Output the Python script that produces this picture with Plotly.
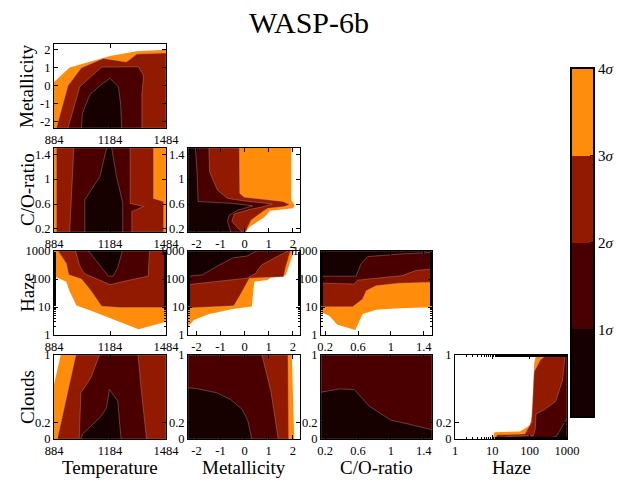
import plotly.graph_objects as go

# the page body keeps an 8px margin on every side; the figure fills the space inside it
PAGE_OFF = 8
W, H = 622 - 2 * PAGE_OFF, 487 - 2 * PAGE_OFF

# ---------------- data ----------------
BAND_COLORS = {4: "#ff8c0a", 3: "#921a00", 2: "#4b0000", 1: "#170000"}
SIGMA_LEVELS = [1, 2, 3, 4]
SIGMA_LABELS = ["1<i>σ</i>", "2<i>σ</i>", "3<i>σ</i>", "4<i>σ</i>"]

TEMP_RANGE = [884, 1484]
TEMP_TICKS = [884, 1184, 1484]
MET_RANGE = [-2.35, 2.3]
MET_TICKS = [-2, -1, 0, 1, 2]
MET_TICKTEXT = ["-2", "-1", "0", "1", "2"]
CO_RANGE = [0.15, 1.5]
CO_TICKS = [0.2, 0.6, 1, 1.4]
CO_TICKTEXT = ["0.2", "0.6", "1", "1.4"]
HAZE_LOG_RANGE = [0, 3]
HAZE_TICKS = [1, 10, 100, 1000]
CLOUD_RANGE = [0, 1]
CLOUD_TICKS = [0, 0.2, 1]
CLOUD_TICKTEXT = ["0", "0.2", "1"]

# confidence regions (region with sigma <= level), x = column parameter, y = row parameter
MET_VS_TEMP = {
    4: ([884, 884, 968, 1184, 1328, 1484, 1484], [-2.35, 0.2, 1.0, 1.63, 1.9, 1.98, -2.35]),
    3: ([897, 959, 1031, 1148, 1272, 1328, 1484, 1484], [-2.35, 0.0, 0.98, 1.5, 1.3, 1.74, 1.8, -2.35]),
    2: ([959, 1022, 1139, 1337, 1364, 1355, 1355], [-2.35, -0.07, 1.02, 1.04, 0.54, -0.5, -2.35]),
    1: ([1031, 1036, 1076, 1130, 1184, 1229, 1241, 1247], [-2.35, -1.56, -0.5, 0.0, 0.4, -0.07, -1.03, -2.35]),
}
CO_VS_TEMP = {
    4: ([884, 884, 1484, 1484], [0.15, 1.5, 1.5, 0.15]),
    3: ([897, 897, 1417, 1417, 1471, 1471], [0.15, 1.5, 1.5, 0.69, 0.64, 0.15]),
    2: ([968, 990, 1292, 1292, 1364, 1301, 1301], [0.15, 1.5, 1.5, 0.61, 0.56, 0.48, 0.15]),
    1: ([1049, 1049, 1130, 1166, 1193, 1219, 1252, 1252], [0.15, 0.67, 1.04, 1.5, 1.5, 1.04, 0.62, 0.15]),
}
CO_VS_MET = {
    4: ([-2.35, -2.35, 1.94, 1.94, 2.08, 2.01, 1.06, 0.83, 0.20, 0.06],
        [0.15, 1.5, 1.5, 0.66, 0.58, 0.53, 0.49, 0.39, 0.23, 0.15]),
    3: ([-2.35, -2.35, -0.22, -0.20, -0.01, 1.59, 1.87, 1.66, 0.97, 0.76, 0.27, 0.03],
        [0.15, 1.5, 1.5, 0.77, 0.71, 0.64, 0.59, 0.56, 0.53, 0.48, 0.34, 0.15]),
    2: ([-2.35, -2.35, -1.48, -1.455, -1.13, -0.71, -0.01, 1.15, 0.76, 0.20, -0.43, -0.53, -0.11],
        [0.15, 1.5, 1.5, 1.12, 0.825, 0.69, 0.65, 0.60, 0.557, 0.51, 0.44, 0.32, 0.15]),
    1: ([-2.35, -2.35, -2.04, -1.97, -1.93, -0.50, 0.34, -0.29, -0.64, -0.71, -0.57],
        [0.15, 1.5, 1.5, 1.09, 0.64, 0.61, 0.57, 0.50, 0.42, 0.32, 0.15]),
}
HAZE_VS_TEMP = {
    4: ([884, 950, 965, 1004, 1090, 1184, 1337, 1484, 1484, 884],
        [126, 79, 40, 11.2, 7.1, 4.0, 1.6, 3.0, 1000, 1000]),
    3: ([906, 950, 963, 1031, 1080, 1112, 1139, 1240, 1484, 1484],
        [1000, 355, 141, 100, 40, 20, 10.7, 9.5, 9.5, 1000]),
    2: ([1000, 1020, 1045, 1184, 1300, 1388, 1396], [1000, 316, 158, 63, 95, 126, 1000]),
    1: ([1070, 1110, 1160, 1175, 1200, 1225, 1250], [1000, 447, 158, 126, 126, 251, 1000]),
}
HAZE_VS_MET = {
    4: ([-2.35, -2.1, -1.5, -0.5, 0.3, 0.33, 0.4, 0.95, 1.1, 1.7, 2.05, -2.35],
        [2.0, 3.4, 5.5, 8.5, 10.5, 25, 79, 93, 112, 132, 1000, 1000]),
    3: ([-2.35, -0.45, -0.2, 0.2, 1.62, 1.7, 1.9, -2.35], [9.3, 11, 25, 107, 120, 251, 1000, 1000]),
    2: ([-2.35, 0.1, 0.45, 0.7, 1.35, 1.8, -2.35], [63, 107, 158, 316, 631, 1000, 1000]),
    1: ([-2.35, -1.75, -1.05, -0.5, 0.1, 0.5, -2.35], [126, 141, 316, 562, 661, 1000, 1000]),
}
HAZE_VS_CO = {
    4: ([0.15, 0.25, 0.35, 0.567, 0.657, 0.82, 1.10, 1.5, 1.5, 0.15],
        [6.5, 4.9, 2.3, 1.5, 5.6, 7.9, 9.1, 9.8, 1000, 1000]),
    3: ([0.15, 0.535, 0.657, 0.70, 0.82, 1.10, 1.5, 1.5, 0.15],
        [10.2, 10.2, 19.5, 38, 57.5, 71, 76, 1000, 1000]),
    2: ([0.15, 0.555, 0.596, 0.9, 1.14, 1.30, 1.5, 1.5, 0.15],
        [71, 66, 91, 115, 132, 200, 229, 1000, 1000]),
    1: ([0.15, 0.576, 0.636, 0.718, 1.10, 1.5, 1.5, 0.15],
        [126, 126, 347, 631, 776, 891, 1000, 1000]),
}
CLOUDS_VS_TEMP = {
    4: ([884, 884, 920, 1484, 1484], [0, 0.65, 1, 1, 0]),
    3: ([902, 1001, 1484, 1484], [0, 1, 1, 0]),
    2: ([1019, 1028, 1082, 1127, 1334, 1352, 1380], [0, 0.55, 0.73, 1, 1, 0.57, 0]),
    1: ([1028, 1037, 1136, 1165, 1181, 1226, 1235, 1244], [0, 0.06, 0.27, 0.37, 0.59, 0.45, 0.2, 0]),
}
CLOUDS_VS_MET = {
    4: ([-2.35, -2.35, 1.96, 2.06], [0, 1, 1, 0]),
    3: ([-2.35, -2.35, 1.80, 1.83], [0, 1, 1, 0]),
    2: ([-2.35, -2.35, 0.72, 1.09, 1.40], [0, 1, 1, 0.57, 0]),
    1: ([-2.35, -2.35, -2.0, -1.15, -0.58, -0.09, 0.13, 0.30], [0, 0.61, 0.60, 0.55, 0.47, 0.35, 0.22, 0]),
}
CLOUDS_VS_CO = {
    2: ([0.15, 0.15, 1.5, 1.5], [0, 1, 1, 0]),
    1: ([0.15, 0.15, 0.373, 0.555, 0.738, 1.0, 1.224, 1.5, 1.5],
        [0, 0.557, 0.596, 0.588, 0.39, 0.224, 0.176, 0.11, 0]),
}
CLOUDS_VS_HAZE = {
    4: ([10, 11.5, 55, 100, 120, 132, 148, 1000, 1000], [0, 0.08, 0.09, 0.16, 0.3, 0.9, 1, 1, 0]),
    3: ([11.5, 13.5, 74, 112, 132, 191, 288, 1000, 1000], [0, 0.05, 0.06, 0.2, 0.8, 0.94, 1, 1, 0]),
    2: ([20, 25, 126, 141, 148, 251, 501, 759, 891, 1000, 1000],
        [0, 0.03, 0.04, 0.12, 0.3, 0.35, 0.45, 0.7, 1, 1, 0]),
    1: ([355, 537, 813, 1000, 1000], [0, 0.04, 0.18, 0.24, 0]),
}

COL_NAMES = ["Temperature", "Metallicity", "C/O-ratio", "Haze"]
ROW_NAMES = ["Metallicity", "C/O-ratio", "Haze", "Clouds"]

# ---------------- layout geometry (window pixels) ----------------
COL_PX = [(54, 166), (188, 300), (321, 432), (455, 567)]
ROW_PX = [(44, 128), (148, 232), (251, 335), (355, 439)]
CBAR_X = (572, 593)
CBAR_Y = (69, 416)

SERIF = '"Liberation Serif", "DejaVu Serif", serif'

def px(v):
    return (v - PAGE_OFF) / W

def py(v):
    return 1 - (v - PAGE_OFF) / H

def xdom(a, b):
    return [px(a), px(b)]

def ydom(a, b):
    return [py(b), py(a)]

AXIS_X = {
    0: dict(range=TEMP_RANGE, tickvals=TEMP_TICKS, ticktext=[str(t) for t in TEMP_TICKS]),
    1: dict(range=MET_RANGE, tickvals=MET_TICKS, ticktext=MET_TICKTEXT),
    2: dict(range=CO_RANGE, tickvals=CO_TICKS, ticktext=CO_TICKTEXT),
    3: dict(type="log", range=HAZE_LOG_RANGE, tickvals=HAZE_TICKS, ticktext=[str(t) for t in HAZE_TICKS],
            minor=dict(ticks="inside", ticklen=2, tickcolor="black", showgrid=False)),
}
AXIS_Y = {
    0: dict(range=MET_RANGE, tickvals=MET_TICKS, ticktext=MET_TICKTEXT),
    1: dict(range=CO_RANGE, tickvals=CO_TICKS, ticktext=CO_TICKTEXT),
    2: dict(type="log", range=HAZE_LOG_RANGE, tickvals=HAZE_TICKS, ticktext=[str(t) for t in HAZE_TICKS],
            minor=dict(ticks="inside", ticklen=2, tickcolor="black", showgrid=False)),
    3: dict(range=CLOUD_RANGE, tickvals=CLOUD_TICKS, ticktext=CLOUD_TICKTEXT),
}

PANELS = [
    (0, 0, MET_VS_TEMP),
    (1, 0, CO_VS_TEMP), (1, 1, CO_VS_MET),
    (2, 0, HAZE_VS_TEMP), (2, 1, HAZE_VS_MET), (2, 2, HAZE_VS_CO),
    (3, 0, CLOUDS_VS_TEMP), (3, 1, CLOUDS_VS_MET), (3, 2, CLOUDS_VS_CO), (3, 3, CLOUDS_VS_HAZE),
]

fig = go.Figure()
common = dict(showgrid=False, zeroline=False, showline=True, linecolor="black", linewidth=1,
              mirror="ticks", ticks="inside", ticklen=4, tickcolor="black", automargin=False,
              tickfont=dict(family=SERIF, size=12.5, color="black"))
layout = {}
for k, (r, c, polys) in enumerate(PANELS, start=1):
    xa = "x" if k == 1 else f"x{k}"
    ya = "y" if k == 1 else f"y{k}"
    for lvl in [4, 3, 2, 1]:
        if lvl not in polys:
            continue
        xs, ys = polys[lvl]
        fig.add_trace(go.Scatter(
            x=list(xs) + [xs[0]], y=list(ys) + [ys[0]], mode="lines", fill="toself",
            fillcolor=BAND_COLORS[lvl],
            line=dict(width=0 if lvl == 4 else 0.7,
                      color=BAND_COLORS[lvl] if lvl == 4 else "rgba(190,160,160,0.55)"),
            xaxis=xa, yaxis=ya, hoverinfo="skip", showlegend=False))
    kx = "xaxis" if k == 1 else f"xaxis{k}"
    ky = "yaxis" if k == 1 else f"yaxis{k}"
    layout[kx] = dict(common, domain=xdom(*COL_PX[c]), anchor=ya, **AXIS_X[c])
    layout[ky] = dict(common, domain=ydom(*ROW_PX[r]), anchor=xa, **AXIS_Y[r])

# colour bar as its own little axis
cb = len(PANELS) + 1
fig.add_trace(go.Heatmap(
    x=[0], y=[l - 0.5 for l in SIGMA_LEVELS], z=[[l - 0.5] for l in SIGMA_LEVELS],
    zmin=0, zmax=4, showscale=False, hoverinfo="skip",
    colorscale=[[0, BAND_COLORS[1]], [0.25, BAND_COLORS[1]], [0.25, BAND_COLORS[2]], [0.5, BAND_COLORS[2]],
                [0.5, BAND_COLORS[3]], [0.75, BAND_COLORS[3]], [0.75, BAND_COLORS[4]], [1, BAND_COLORS[4]]],
    xaxis=f"x{cb}", yaxis=f"y{cb}"))
layout[f"xaxis{cb}"] = dict(domain=xdom(*CBAR_X), anchor=f"y{cb}", range=[-0.5, 0.5], showticklabels=False,
                           showgrid=False, zeroline=False, showline=True, linecolor="black", linewidth=2,
                           mirror=True, ticks="", automargin=False)
layout[f"yaxis{cb}"] = dict(domain=ydom(*CBAR_Y), anchor=f"x{cb}", range=[0, 4], side="right",
                           tickvals=SIGMA_LEVELS, ticktext=SIGMA_LABELS, ticks="inside", ticklen=3,
                           tickcolor="black", showgrid=False, zeroline=False, showline=True,
                           linecolor="black", linewidth=2, mirror=True, automargin=False,
                           tickfont=dict(family=SERIF, size=15, color="black"))

annotations = []
for c, name in enumerate(COL_NAMES):
    a, b = COL_PX[c]
    annotations.append(dict(text=name, x=px((a + b) / 2), y=py(467), xref="paper", yref="paper",
                            showarrow=False, xanchor="center", yanchor="middle",
                            font=dict(family=SERIF, size=19, color="black")))
for r, name in enumerate(ROW_NAMES):
    a, b = ROW_PX[r]
    annotations.append(dict(text=name, x=px(27), y=py((a + b) / 2), xref="paper", yref="paper",
                            showarrow=False, xanchor="center", yanchor="middle", textangle=-90,
                            font=dict(family=SERIF, size=19, color="black")))

fig.update_layout(
    template="none",
    width=W, height=H, margin=dict(l=0, r=0, t=0, b=0, autoexpand=False),
    paper_bgcolor="white", plot_bgcolor="white",
    title=dict(text="WASP-6b", x=px(309), xanchor="center", y=py(22), yanchor="middle",
               font=dict(family=SERIF, size=30, color="black")),
    annotations=annotations, showlegend=False,
    **layout)

fig.write_html("out.html")
